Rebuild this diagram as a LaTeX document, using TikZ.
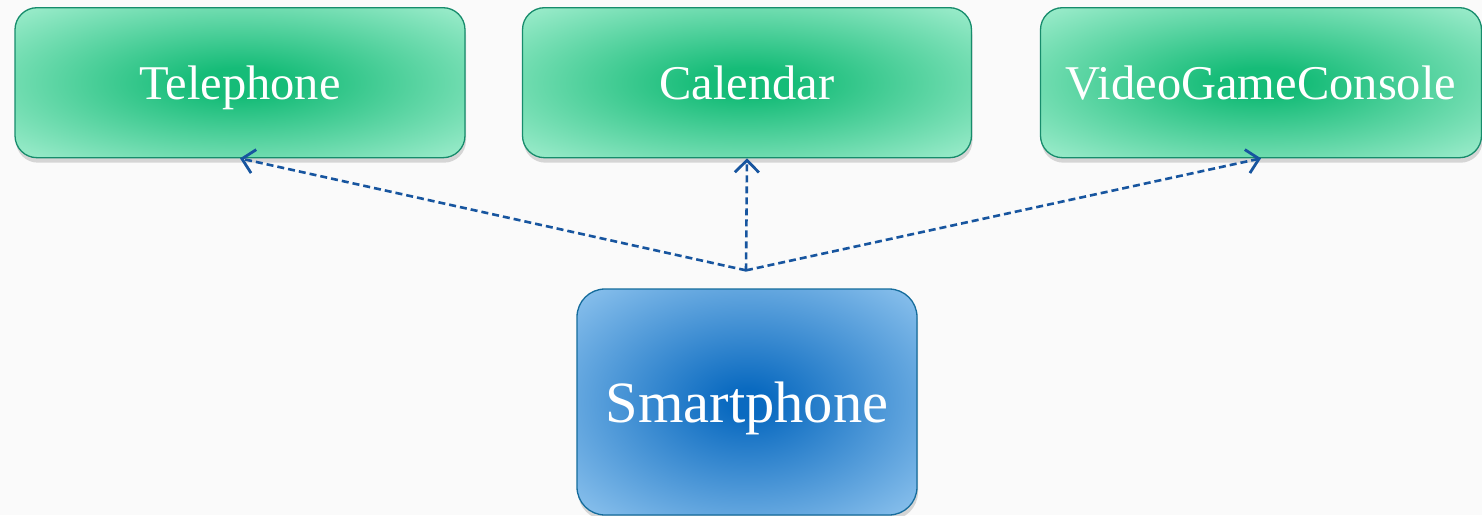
\documentclass[tikz,border=0pt]{standalone}
\usepackage{fontspec}
\setmainfont{Liberation Serif}
\usetikzlibrary{positioning,shadows,arrows.meta}

\definecolor{greenin}{HTML}{16BC78}
\definecolor{greenout}{HTML}{AAF1D4}
\definecolor{greenline}{HTML}{178C6C}
\definecolor{bluein}{HTML}{0A6AC0}
\definecolor{blueout}{HTML}{9FCFF4}
\definecolor{blueline}{HTML}{156C9C}
\definecolor{arrowblue}{HTML}{17559F}

\pgfdeclareradialshading{greenglow}{\pgfpoint{0bp}{0bp}}{%
  color(0bp)=(greenin); color(5bp)=(greenin); color(38bp)=(greenout); color(72bp)=(greenout)}
\pgfdeclareradialshading{blueglow}{\pgfpoint{0bp}{0bp}}{%
  color(0bp)=(bluein); color(3bp)=(bluein); color(40bp)=(blueout); color(72bp)=(blueout)}

\tikzset{
  greenbox/.style={draw=greenline, line width=1.3pt, rounded corners=22pt,
    shading=greenglow,
    drop shadow={shadow xshift=1pt, shadow yshift=-5pt, opacity=0.3},
    minimum height=150pt, inner sep=0pt, text=white, text depth=0pt,
    font=\fontsize{48.5}{58}\selectfont},
  bluebox/.style={draw=blueline, line width=1.3pt, rounded corners=28pt,
    shading=blueglow,
    drop shadow={shadow xshift=1pt, shadow yshift=-5pt, opacity=0.3},
    minimum width=340pt, minimum height=226pt, inner sep=0pt, text=white, text depth=0pt,
    font=\fontsize{58.5}{70}\selectfont},
  realizes/.style={draw=arrowblue, line width=2.6pt, dash pattern=on 7pt off 4pt,
    -{Straight Barb[length=12pt,width=24pt,line width=2.8pt]}}
}

\begin{document}
\begin{tikzpicture}[x=1pt, y=1pt]
	% Frame
	\fill[white!96!gray] (0,0) rectangle (1482,515);
	\useasboundingbox (0,0) rectangle (1482,515);

	% Nodes
	% The smartphone
	\node[bluebox] (phone) at (747,113) {Smartphone};
	% What it is also
	\node[greenbox, minimum width=450pt, above=130pt of phone, xshift=-507pt] (telephone) {Telephone};
	\node[greenbox, minimum width=449pt, above=130pt of phone, xshift=0pt] (calendar) {Calendar};
	\node[greenbox, minimum width=441pt, above=130pt of phone, xshift=514pt] (console) {VideoGameConsole};

	% Where the arrows split
	\coordinate[above=18pt of phone.north, xshift=-1pt] (split);

	% Edges
	\draw[realizes] (split) -- (telephone.south);
	\draw[realizes] (split) -- (calendar.south);
	\draw[realizes] (split) -- (console.south);
\end{tikzpicture}
\end{document}
